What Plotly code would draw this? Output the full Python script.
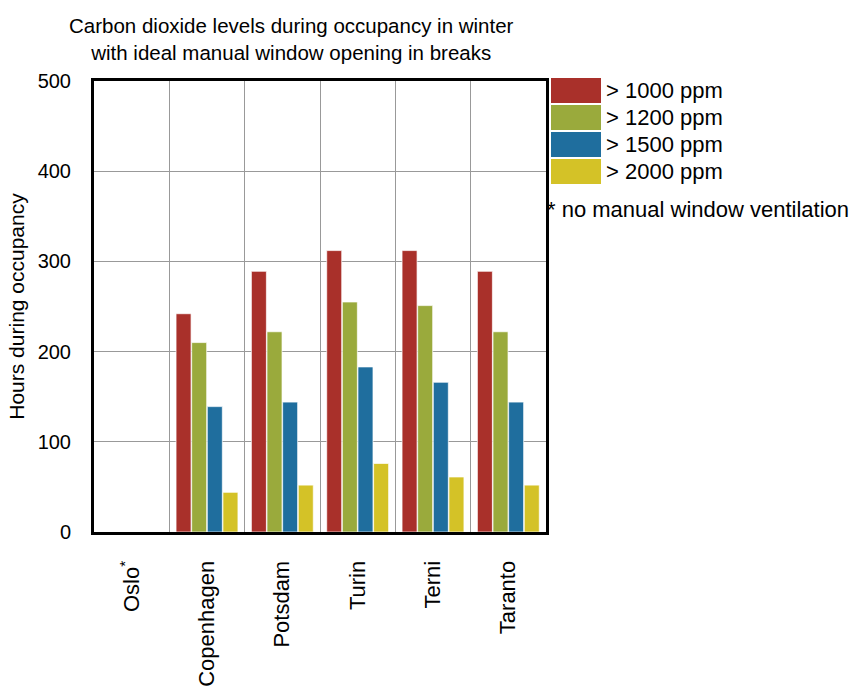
import plotly.graph_objects as go

cities = ["Oslo<sup>*</sup>", "Copenhagen", "Potsdam", "Turin", "Terni", "Taranto"]
series_names = ["> 1000 ppm", "> 1200 ppm", "> 1500 ppm", "> 2000 ppm"]
colors = ["#A9302A", "#9AAA3C", "#1F6E9E", "#D4C227"]
v1000 = [0, 242, 289, 312, 312, 289]
v1200 = [0, 210, 222, 255, 251, 222]
v1500 = [0, 139, 144, 183, 166, 144]
v2000 = [0, 44, 52, 76, 61, 52]
values = [v1000, v1200, v1500, v2000]
y_ticks = [0, 100, 200, 300, 400, 500]
footnote = "* no manual window ventilation"
title_lines = ["Carbon dioxide levels during occupancy in winter",
               "with ideal manual window opening in breaks"]

W, H = 856, 686
L, R, T, B = 94, 546, 81, 532
FONT = "Liberation Sans, Arial, sans-serif"

fig = go.Figure()
for name, col, vals in zip(series_names, colors, values):
    fig.add_trace(go.Bar(x=cities, y=vals, name=name, marker_color=col,
                         marker_line=dict(color="rgba(255,255,255,0.7)", width=1),
                         showlegend=False))

def px_x(px):
    return (px - L) / (R - L)

def px_y(py):
    return (B - py) / (B - T)

shapes = []
annotations = []
for i, (name, col) in enumerate(zip(series_names, colors)):
    top = 78 + 27 * i
    shapes.append(dict(type="rect", xref="paper", yref="paper",
                       x0=px_x(551), x1=px_x(601), y0=px_y(top + 25), y1=px_y(top),
                       fillcolor=col, line=dict(width=0)))
    annotations.append(dict(xref="paper", yref="paper", x=px_x(604), y=px_y(top + 12.5),
                            xanchor="left", yanchor="middle", text=name, showarrow=False,
                            font=dict(size=22, color="black", family=FONT)))
annotations.append(dict(xref="paper", yref="paper", x=px_x(545), y=px_y(209),
                        xanchor="left", yanchor="middle", text=footnote, showarrow=False,
                        font=dict(size=22, color="black", family=FONT)))
annotations.append(dict(xref="paper", yref="paper", x=px_x(291), y=px_y(38.5),
                        xanchor="center", yanchor="middle", text="<br>".join(title_lines),
                        showarrow=False, align="center",
                        font=dict(size=20.5, color="black", family=FONT)))

fig.update_layout(
    width=W, height=H,
    margin=dict(l=L, r=W - R, t=T, b=H - B, pad=0),
    paper_bgcolor="white", plot_bgcolor="white",
    font=dict(family=FONT, size=20, color="black"),
    barmode="group", bargap=0.17, bargroupgap=0.04,
    shapes=shapes, annotations=annotations,
    xaxis=dict(type="category", tickangle=-90, tickson="boundaries", automargin=False,
               showgrid=True, gridcolor="#999999", gridwidth=1,
               showline=True, linecolor="black", linewidth=3, mirror=True,
               ticks="", ticklabelstandoff=17, tickfont=dict(size=22)),
    yaxis=dict(range=[0, 500], tickvals=y_ticks, showgrid=True, gridcolor="#999999",
               gridwidth=1, showline=True, linecolor="black", linewidth=3, mirror=True,
               automargin=False,
               ticks="", ticklabelstandoff=16, zeroline=False, tickfont=dict(size=20),
               title=dict(text="Hours during occupancy", standoff=8, font=dict(size=21))),
)

fig.write_html("out.html", config={"displayModeBar": False},
               post_script="document.body.style.margin='0px';")
